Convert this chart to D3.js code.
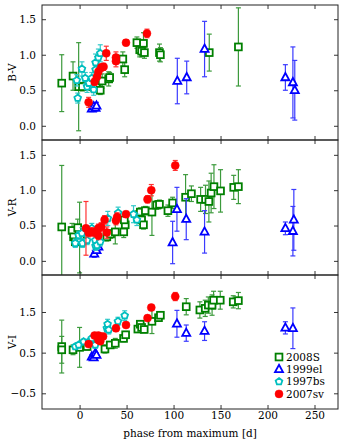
<!DOCTYPE html>
<html>
<head>
<meta charset="utf-8">
<script src="https://cdn.jsdelivr.net/npm/d3@7"></script>
<style>
  body { margin: 0; background: #fff; }
  svg text { font-family: "DejaVu Serif", serif; }
</style>
</head>
<body>
<svg id="chart" width="344" height="443"></svg>
<script>
// [phase, colour, error]
var sn2008S_BV = [[-19, 0.60, 0.40], [-7, 0.70, 0.20], [-1, 0.55, 0.62], [3, 0.55, 0.06], [14, 0.55, 0.07],
  [18, 0.57, 0.08], [22, 0.50, 0.06], [24, 0.63, 0.10], [31, 0.66, 0.10], [32, 0.68, 0.07], [46, 0.94, 0.10],
  [48, 0.79, 0.10], [61, 1.17, 0.08], [64, 1.07, 0.10], [66, 1.05, 0.08], [68, 1.16, 0.15], [69, 1.03, 0.08],
  [85, 1.03, 0.12], [86, 1.00, 0.10], [138, 1.03, 0.26], [169, 1.11, 0.55]];
var sn1999el_BV = [[13, 0.24, 0.04], [15, 0.27, 0.05], [17, 0.25, 0.04], [18, 0.28, 0.05], [104, 0.63, 0.32],
  [114, 0.68, 0.23], [133, 1.08, 0.39], [219, 0.68, 0.18], [227, 0.61, 0.50], [229, 0.50, 0.42]];
var sn1997bs_BV = [[-3, 0.64, 0.08], [-2, 0.39, 0.07], [2.5, 0.80, 0.10], [6, 0.67, 0.08], [8, 0.55, 0.08],
  [10, 0.60, 0.08], [13, 0.67, 0.08], [15, 0.51, 0.08], [17, 0.79, 0.10], [17, 0.89, 0.12], [20, 0.96, 0.12],
  [22, 1.02, 0.12]];
var sn2007sv_BV = [[9.6, 0.33, 0.07], [16, 0.62, 0.05], [18.5, 0.69, 0.05], [20, 0.76, 0.05], [23, 0.82, 0.05],
  [25.5, 0.83, 0.05], [28.4, 1.02, 0.10], [38.7, 0.96, 0.08], [38.7, 0.91, 0.08], [49.4, 1.17, 0.04],
  [71.7, 1.30, 0.06]];

var sn2008S_VR = [[-19, 0.48, 0.87], [-8, 0.43, 0.10], [-6.4, 0.34, 0.10], [-4.6, 0.27, 0.06], [-2, 0.47, 0.12],
  [0, 0.33, 0.50], [1, 0.30, 0.05], [29, 0.34, 0.06], [33, 0.38, 0.06], [38, 0.41, 0.17], [47, 0.41, 0.08],
  [48.6, 0.51, 0.08], [47.6, 0.58, 0.08], [62, 0.63, 0.08], [63, 0.65, 0.06], [64.6, 0.69, 0.06], [66, 0.58, 0.06],
  [68, 0.51, 0.06], [70, 0.71, 0.06], [77, 0.69, 0.33], [82, 0.79, 0.06], [85, 0.80, 0.06], [94, 0.71, 0.08],
  [99, 0.82, 0.08], [112.8, 0.90, 0.32], [119, 0.95, 0.11], [128.8, 0.87, 0.17], [134, 0.87, 0.20],
  [137.6, 0.84, 0.29], [140, 0.96, 0.28], [143, 1.05, 0.31], [150, 0.99, 0.30], [164, 1.04, 0.17],
  [169, 1.05, 0.24]];
var sn1999el_VR = [[15.6, 0.10, 0.05], [18, 0.15, 0.04], [20, 0.20, 0.04], [99, 0.26, 0.30], [103.6, 0.73, 0.31],
  [113.5, 0.59, 0.29], [133, 0.41, 0.30], [219, 0.46, 0.09], [227, 0.42, 0.35], [228, 0.58, 0.43]];
var sn1997bs_VR = [[-4.6, 0.25, 0.06], [-1, 0.36, 0.06], [2.5, 0.39, 0.08], [3, 0.25, 0.06], [8, 0.29, 0.06],
  [13, 0.46, 0.07], [16.7, 0.29, 0.06], [17, 0.21, 0.06], [18.5, 0.22, 0.06], [22, 0.27, 0.06], [30, 0.60, 0.10],
  [41, 0.68, 0.08], [57.4, 0.66, 0.12], [61, 0.58, 0.08]];
var sn2007sv_VR = [[6.8, 0.46, 0.38], [9.6, 0.40, 0.06], [13, 0.41, 0.06], [16.7, 0.40, 0.06], [20, 0.46, 0.06],
  [20, 0.36, 0.06], [23, 0.48, 0.06], [26.6, 0.58, 0.06], [29, 0.40, 0.08], [38.7, 0.57, 0.06], [40, 0.62, 0.06],
  [49.4, 0.66, 0.04], [72.3, 0.87, 0.05], [76.3, 1.00, 0.08], [101.8, 1.35, 0.07]];

var sn2008S_VI = [[-19, 0.65, 0.65], [-19, 0.57, 0.33], [-7, 0.57, 0.12], [0, 0.63, 0.49], [8, 0.65, 0.08],
  [27, 0.59, 0.10], [32.6, 0.69, 0.08], [38, 0.73, 0.12], [46.8, 0.85, 0.08], [49, 0.94, 0.08], [62, 1.08, 0.08],
  [64.6, 1.20, 0.08], [66, 1.12, 0.08], [68.8, 1.07, 0.08], [77, 1.27, 0.30], [84, 1.36, 0.08], [86, 1.42, 0.08],
  [113.5, 1.63, 0.20], [128, 1.55, 0.20], [133.7, 1.59, 0.20], [137, 1.67, 0.20], [141, 1.67, 0.25],
  [142.6, 1.79, 0.22], [149.7, 1.79, 0.22], [163.5, 1.75, 0.15], [169, 1.78, 0.20]];
var sn1999el_VI = [[13, 0.40, 0.05], [15, 0.38, 0.05], [16.7, 0.48, 0.05], [18, 0.44, 0.05], [103.6, 1.21, 0.33],
  [113.5, 0.98, 0.20], [133, 1.03, 0.23], [219, 1.11, 0.15], [227, 1.10, 0.50]];
var sn1997bs_VI = [[-4.6, 0.65, 0.06], [-1, 0.69, 0.06], [4.3, 0.77, 0.06], [10, 0.77, 0.06], [13, 0.85, 0.06],
  [16.7, 0.69, 0.06], [29, 1.10, 0.10], [29.8, 1.20, 0.12], [31, 1.06, 0.10], [40.8, 1.27, 0.10], [48, 1.41, 0.12]];
var sn2007sv_VI = [[9.6, 0.71, 0.05], [16, 0.92, 0.06], [20, 0.92, 0.06], [20, 0.81, 0.06], [23, 0.89, 0.06],
  [25, 0.90, 0.05], [22, 0.78, 0.05], [38.7, 1.10, 0.08], [49.4, 1.18, 0.05], [72.3, 1.35, 0.05],
  [76.3, 1.61, 0.06], [101.8, 1.88, 0.10]];

var seriesNames = ["2008S", "1999el", "1997bs", "2007sv"];
var panelLabels = ["B-V", "V-R", "V-I"];
var xTicks = [0, 50, 100, 150, 200, 250];
var yTicksBV = [0.0, 0.5, 1.0, 1.5];
var yTicksVR = [0.0, 0.5, 1.0, 1.5];
var yTicksVI = [-0.5, 0.5, 1.5];

var svg = d3.select("#chart");
var left = 42, right = 338;
var x = d3.scaleLinear().domain([-40, 275]).range([left, right]);

var styles = [
  { color: "#008000", bar: "#3c9a3c", shape: "square" },
  { color: "#0000ff", bar: "#3b3bff", shape: "triangle" },
  { color: "#00bfbf", bar: "#33c9c9", shape: "pentagon" },
  { color: "#ff0000", bar: "#ff3333", shape: "circle" }
];

function marker(g, shape, color) {
  if (shape === "square") {
    g.append("rect").attr("x", -3.4).attr("y", -3.4).attr("width", 6.8).attr("height", 6.8)
      .attr("fill", "#fff").attr("stroke", color).attr("stroke-width", 1.8);
  } else if (shape === "triangle") {
    g.append("path").attr("d", "M0,-4.5L4,2.8L-4,2.8Z")
      .attr("fill", "#fff").attr("stroke", color).attr("stroke-width", 1.8);
  } else if (shape === "pentagon") {
    var pts = d3.range(5).map(function (i) {
      var a = -Math.PI / 2 + i * 2 * Math.PI / 5;
      return [3.5 * Math.cos(a), 3.5 * Math.sin(a)];
    });
    g.append("path").attr("d", "M" + pts.join("L") + "Z")
      .attr("fill", "#fff").attr("stroke", color).attr("stroke-width", 1.8);
  } else {
    g.append("circle").attr("r", 4).attr("fill", color).attr("stroke", color).attr("stroke-width", 0.5);
  }
}

var panels = [
  { top: 5, bottom: 140, domain: [-0.2, 1.7], ticks: yTicksBV, data: [sn2008S_BV, sn1999el_BV, sn1997bs_BV, sn2007sv_BV] },
  { top: 140, bottom: 275, domain: [-0.2, 1.71], ticks: yTicksVR, data: [sn2008S_VR, sn1999el_VR, sn1997bs_VR, sn2007sv_VR] },
  { top: 275, bottom: 409, domain: [-0.886, 2.41], ticks: yTicksVI, data: [sn2008S_VI, sn1999el_VI, sn1997bs_VI, sn2007sv_VI] }
];

panels.forEach(function (p, pi) {
  var y = d3.scaleLinear().domain(p.domain).range([p.bottom, p.top]);
  var g = svg.append("g");
  var clipId = "clip" + pi;
  svg.append("clipPath").attr("id", clipId).append("rect")
    .attr("x", left).attr("y", p.top).attr("width", right - left).attr("height", p.bottom - p.top);
  var plot = g.append("g").attr("clip-path", "url(#" + clipId + ")");

  p.data.forEach(function (rows, si) {
    var st = styles[si];
    var s = plot.append("g");
    rows.forEach(function (d) {
      var cx = x(d[0]), y0 = y(d[1] - d[2]), y1 = y(d[1] + d[2]);
      s.append("line").attr("x1", cx).attr("x2", cx).attr("y1", y0).attr("y2", y1)
        .attr("stroke", st.bar).attr("stroke-width", 1.2);
      [y0, y1].forEach(function (yy) {
        s.append("line").attr("x1", cx - 2.5).attr("x2", cx + 2.5).attr("y1", yy).attr("y2", yy)
          .attr("stroke", st.bar).attr("stroke-width", 1.2);
      });
    });
    rows.forEach(function (d) {
      marker(s.append("g").attr("transform", "translate(" + x(d[0]) + "," + y(d[1]) + ")"), st.shape, st.color);
    });
  });

  // axes: ticks inward on all sides
  var axB = d3.axisBottom(x).tickValues(xTicks).tickSizeInner(-4).tickSizeOuter(0)
    .tickFormat(pi === 2 ? d3.format("d") : function () { return ""; });
  var axT = d3.axisTop(x).tickValues(xTicks).tickSizeInner(-4).tickSizeOuter(0).tickFormat("");
  var axL = d3.axisLeft(y).tickValues(p.ticks).tickSizeInner(-4).tickSizeOuter(0).tickFormat(d3.format(".1f"));
  var axR = d3.axisRight(y).tickValues(p.ticks).tickSizeInner(-4).tickSizeOuter(0).tickFormat("");

  [[axB, "translate(0," + p.bottom + ")"], [axT, "translate(0," + p.top + ")"],
   [axL, "translate(" + left + ",0)"], [axR, "translate(" + right + ",0)"]].forEach(function (a) {
    var ag = g.append("g").attr("transform", a[1]).call(a[0]);
    ag.select(".domain").remove();
    ag.selectAll("line").attr("stroke", "#000").attr("stroke-width", 0.8);
    ag.selectAll("text").attr("font-size", 10.5).attr("fill", "#000")
      .attr("font-family", "DejaVu Serif, serif");
  });
  g.selectAll("text").filter(function () { return this.textContent.indexOf(".") >= 0; })
    .attr("x", -6);

  g.append("rect").attr("x", left).attr("y", p.top).attr("width", right - left).attr("height", p.bottom - p.top)
    .attr("fill", "none").attr("stroke", "#222").attr("stroke-width", 1);

  g.append("text").attr("transform", "translate(16," + ((p.top + p.bottom) / 2) + ") rotate(-90)")
    .attr("text-anchor", "middle").attr("font-size", 10.5).text(panelLabels[pi]);
});

svg.append("text").attr("x", (left + right) / 2).attr("y", 437).attr("text-anchor", "middle")
  .attr("font-size", 10.5).text("phase from maximum [d]");

// legend
var legend = svg.append("g");
seriesNames.forEach(function (name, i) {
  var ly = 357 + i * 12.3;
  marker(legend.append("g").attr("transform", "translate(279," + ly + ")"), styles[i].shape, styles[i].color);
  legend.append("text").attr("x", 286).attr("y", ly + 3.8).attr("font-size", 10.5).text(name);
});
</script>
</body>
</html>
